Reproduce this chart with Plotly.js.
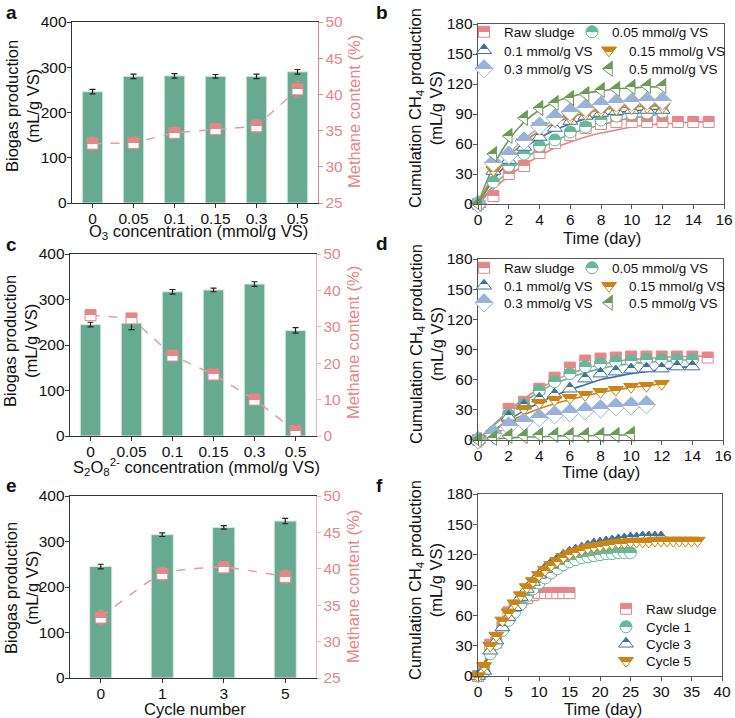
<!DOCTYPE html>
<html>
<head>
<meta charset="utf-8">
<script src="https://cdn.plot.ly/plotly-3.0.1.min.js"></script>
<style>html,body{margin:0;padding:0;background:#fff;}#chart{width:735px;height:718px;}</style>
</head>
<body>
<div id="chart"></div>
<script>
// ---------- Panel a (O3) ----------
const catA = ['0', '0.05', '0.1', '0.15', '0.3', '0.5'];
const biogasA = [246, 280, 281, 280, 280, 290];
const biogasErrA = [5, 5, 5, 4, 5, 5];
const methaneA = [33.2, 33.3, 34.7, 35.2, 35.6, 40.7];
const methaneErrA = [0.9, 0.8, 0.7, 0.6, 0.9, 1.1];

// ---------- Panel c (S2O8) ----------
const catC = ['0', '0.05', '0.1', '0.15', '0.3', '0.5'];
const biogasC = [245, 248, 317, 321, 334, 232];
const biogasErrC = [5, 14, 5, 4, 5, 6];
const methaneC = [33.2, 32.3, 22.1, 16.9, 10.0, 1.4];
const methaneErrC = [0.8, 0.8, 0.7, 0.6, 0.6, 0.5];

// ---------- Panel e (cycles) ----------
const catE = ['0', '1', '3', '5'];
const biogasE = [245, 315, 331, 345];
const biogasErrE = [5, 4, 4, 6];
const methaneE = [33.3, 39.3, 40.2, 38.9];
const methaneErrE = [1.0, 0.9, 0.8, 0.9];

// ---------- Panel b (O3 kinetics) ----------
const t12 = [0, 1, 2, 3, 4, 5, 6, 7, 8, 9, 10, 11, 12];
const t15 = [0, 1, 2, 3, 4, 5, 6, 7, 8, 9, 10, 11, 12, 13, 14, 15];
const rawB = [0, 8, 30, 38, 51, 61, 69, 76, 80, 82, 82, 82, 82, 82, 82, 82];
const b005 = [0, 22, 38, 50, 58, 64, 72, 77, 84, 88, 90, 91, 92];
const b01 = [0, 33, 44, 57, 67, 76, 83, 88, 91, 93, 94, 94, 94];
const b015 = [0, 34, 48, 62, 78, 83, 86, 90, 93, 95, 96, 97, 97];
const b03 = [0, 41, 49, 63, 78, 86, 92, 96, 99, 101, 102, 103, 103];
const b05 = [0, 50, 68, 86, 96, 101, 106, 110, 114, 115, 117, 118, 118];
const fitRawB = [0, 15, 28, 39, 48, 56, 62, 67, 71, 74, 77, 79, 80, 81, 82, 82];
const fit005B = [0, 18, 33, 45, 55, 63, 70, 75, 79, 83, 86, 88, 90];
const fit01B = [0, 24, 42, 56, 66, 74, 80, 85, 88, 91, 93, 94, 95];
const fit015B = [0, 27, 47, 62, 73, 81, 87, 91, 94, 96, 97, 98, 98];
const fit03B = [0, 29, 50, 65, 76, 84, 89, 93, 96, 98, 100, 101, 101];
const fit05B = [0, 38, 64, 82, 94, 102, 107, 111, 113, 115, 116, 117, 117];

// ---------- Panel d (S2O8 kinetics) ----------
const t10 = [0, 1, 2, 3, 4, 5, 6, 7, 8, 9, 10];
const t11 = [0, 1, 2, 3, 4, 5, 6, 7, 8, 9, 10, 11];
const t14 = [0, 1, 2, 3, 4, 5, 6, 7, 8, 9, 10, 11, 12, 13, 14];
const rawD = [0, 5, 31, 38, 51, 62, 72, 79, 81, 82, 83, 83, 83, 83, 83, 82];
const d005 = [0, 8, 25, 35, 49, 58, 66, 73, 76, 78, 79, 80, 80, 80, 80];
const d01 = [0, 8, 23, 34, 41, 45, 51, 61, 66, 68, 70, 71, 71, 73, 73];
const d015 = [0, 6, 16, 31, 37, 40, 42, 45, 48, 50, 53, 54, 56];
const d03 = [0, 6, 14, 18, 22, 25, 27, 29, 31, 33, 34, 35];
const d05 = [0, 2, 4, 4, 5, 5, 5, 5, 5, 5, 6];
const fitRawD = [0, 15, 29, 41, 51, 59, 66, 71, 75, 78, 80, 81, 82, 83, 83, 84];
const fit005D = [0, 14, 27, 38, 48, 56, 62, 67, 71, 74, 76, 77, 78, 79, 80];
const fit01D = [0, 9, 20, 29, 37, 44, 50, 55, 60, 63, 66, 68, 70, 72, 73];
const fit015D = [0, 9, 18, 25, 31, 36, 40, 44, 47, 50, 52, 54, 56];
const fit03D = [0, 6, 12, 17, 21, 24, 26, 28, 30, 31, 32, 33];
const fit05D = [0, 1, 2, 3, 3, 4, 4, 4, 5, 5, 5];

// ---------- Panel f (cycles kinetics) ----------
const t25 = [0,1,2,3,4,5,6,7,8,9,10,11,12,13,14,15,16,17,18,19,20,21,22,23,24,25];
const t30 = [0,1,2,3,4,5,6,7,8,9,10,11,12,13,14,15,16,17,18,19,20,21,22,23,24,25,26,27,28,29,30];
const t36 = [0,1,2,3,4,5,6,7,8,9,10,11,12,13,14,15,16,17,18,19,20,21,22,23,24,25,26,27,28,29,30,31,32,33,34,35,36];
const rawF = [0, 8, 31, 33, 48, 63, 68, 73, 77, 80, 82, 82, 82, 82, 82, 82];
const cyc1F = [0, 4, 22, 32, 45, 55, 63, 71, 79, 86, 92, 97, 102, 106, 110, 113, 115, 117, 118, 119, 120, 121, 121, 122, 122, 122];
const cyc3F = [0, 5, 25, 35, 48, 58, 68, 78, 86, 93, 100, 106, 111, 115, 119, 122, 124, 126, 128, 130, 131, 132, 133, 134, 135, 136, 136, 137, 137, 137, 137];
const cyc5F = [0, 10, 30, 40, 55, 63, 72, 80, 88, 94, 100, 105, 110, 114, 118, 121, 123, 125, 127, 128, 129, 130, 131, 132, 132, 133, 133, 133, 133, 134, 134, 134, 134, 134, 134, 134, 134];
const tFitRawF = [0, 2, 4, 6, 8, 10, 12, 15];
const fitRawF = [0, 25, 46, 61, 71, 77, 80, 82];
const tFitC1 = [0, 2, 4, 6, 8, 10, 12, 15, 18, 21, 25];
const fitC1F = [0, 22, 44, 63, 78, 90, 100, 110, 117, 121, 125];
const tFitC3 = [0, 2, 4, 6, 8, 10, 12, 15, 18, 21, 25, 30];
const fitC3F = [0, 22, 45, 65, 81, 94, 104, 116, 123, 128, 132, 134];
const tFitC5 = [0, 2, 4, 6, 8, 10, 12, 15, 18, 21, 25, 30, 36];
const fitC5F = [0, 25, 48, 68, 84, 97, 107, 118, 125, 129, 132, 134, 135];

// ---------- Text ----------
const yTitleBar = 'Biogas production<br>(mL/g VS)';
const yTitleRight = 'Methane content (%)';
const yTitleCum = 'Cumulation CH<sub>4</sub> production<br>(mL/g VS)';
const xTitleA = 'O<sub>3</sub> concentration (mmol/g VS)';
const xTitleC = 'S<sub>2</sub>O<sub>8</sub><sup>2-</sup> concentration (mmol/g VS)';
const xTitleE = 'Cycle number';
const xTitleTime = 'Time (day)';

// ---------- Styles ----------
const FONT = 'Liberation Sans, Arial, sans-serif';
const TICK = 15.5, TTL = 16.5, LEGF = 13.5;
const BAR = '#68aa91';
const PINK = '#e5868b';
const C_RAW = '#e5868b', C_005 = '#67b898', C_01 = '#41709a', C_015 = '#c98516', C_03 = '#9bb2d8', C_05 = '#6b9a5a';
const AX = '#333';
const W = 735, H = 718;
const px = v => v / W;
const py = v => 1 - v / H;

function halfMarker(color, symbol, size) {
  return {symbol: symbol, size: size, color: color,
          gradient: {type: 'vertical', color: '#ffffff'},
          line: {color: color, width: 1}};
}
function pts(x, y, name, color, symbol, size, xa, ya, legend, lw) {
  const t = {type: 'scatter', mode: 'markers', x: x, y: y, name: name, xaxis: xa, yaxis: ya,
          marker: halfMarker(color, symbol, size), legend: legend, showlegend: true, cliponaxis: false};
  if (lw) t.legendwidth = lw;
  return t;
}
function fit(x, y, color, xa, ya) {
  return {type: 'scatter', mode: 'lines', x: x, y: y, xaxis: xa, yaxis: ya, showlegend: false,
          line: {color: color, width: 1.6, shape: 'spline', smoothing: 1}, hoverinfo: 'skip'};
}
function bars(cat, vals, errs, xa, ya, width) {
  return {type: 'bar', x: cat, y: vals, xaxis: xa, yaxis: ya, width: width, showlegend: false,
          marker: {color: BAR, line: {color: '#d6ece3', width: 1}},
          error_y: {type: 'data', array: errs, visible: true, color: '#222', thickness: 1.2, width: 3}};
}
function methane(cat, vals, errs, xa, ya, shape) {
  return {type: 'scatter', mode: 'lines+markers', x: cat, y: vals, xaxis: xa, yaxis: ya, showlegend: false,
          line: {color: '#ec9a9d', width: 1.5, dash: 'dash', shape: shape, smoothing: 0.6},
          marker: halfMarker(PINK, 'square', 11), cliponaxis: false,
          error_y: {type: 'data', array: errs, visible: true, color: PINK, thickness: 1, width: 3}};
}

const traces = [
  bars(catA, biogasA, biogasErrA, 'x', 'y', 0.5),
  methane(catA, methaneA, methaneErrA, 'x', 'y2', 'linear'),
  bars(catC, biogasC, biogasErrC, 'x3', 'y4', 0.5),
  methane(catC, methaneC, methaneErrC, 'x3', 'y5', 'linear'),
  bars(catE, biogasE, biogasErrE, 'x5', 'y7', 0.36),
  methane(catE, methaneE, methaneErrE, 'x5', 'y8', 'spline'),
  // b fits
  fit(t15, fitRawB, C_RAW, 'x2', 'y3'),
  fit(t12, fit005B, C_005, 'x2', 'y3'),
  fit(t12, fit03B, C_03, 'x2', 'y3'),
  fit(t12, fit01B, C_01, 'x2', 'y3'),
  fit(t12, fit015B, C_015, 'x2', 'y3'),
  fit(t12, fit05B, C_05, 'x2', 'y3'),
  // b points
  pts(t15, rawB, 'Raw sludge', C_RAW, 'square', 11, 'x2', 'y3', 'legend', 63),
  pts(t12, b005, '0.05 mmol/g VS', C_005, 'circle', 12, 'x2', 'y3', 'legend'),
  pts(t12, b01, '0.1 mmol/g VS', C_01, 'triangle-up', 13, 'x2', 'y3', 'legend2', 80),
  pts(t12, b015, '0.15 mmol/g VS', C_015, 'triangle-down', 13, 'x2', 'y3', 'legend2'),
  pts(t12, b03, '0.3 mmol/g VS', C_03, 'diamond', 14, 'x2', 'y3', 'legend3', 80),
  pts(t12, b05, '0.5 mmol/g VS', C_05, 'triangle-left', 13, 'x2', 'y3', 'legend3'),
  // d fits
  fit(t15, fitRawD, C_RAW, 'x4', 'y6'),
  fit(t14, fit005D, C_005, 'x4', 'y6'),
  fit(t14, fit01D, C_01, 'x4', 'y6'),
  fit(t12, fit015D, C_015, 'x4', 'y6'),
  fit(t11, fit03D, C_03, 'x4', 'y6'),
  fit(t10, fit05D, C_05, 'x4', 'y6'),
  // d points
  pts(t15, rawD, 'Raw sludge', C_RAW, 'square', 11, 'x4', 'y6', 'legend4', 63),
  pts(t14, d005, '0.05 mmol/g VS', C_005, 'circle', 12, 'x4', 'y6', 'legend4'),
  pts(t14, d01, '0.1 mmol/g VS', C_01, 'triangle-up', 13, 'x4', 'y6', 'legend5', 80),
  pts(t12, d015, '0.15 mmol/g VS', C_015, 'triangle-down', 13, 'x4', 'y6', 'legend5'),
  pts(t11, d03, '0.3 mmol/g VS', C_03, 'diamond', 14, 'x4', 'y6', 'legend6', 80),
  pts(t10, d05, '0.5 mmol/g VS', C_05, 'triangle-left', 13, 'x4', 'y6', 'legend6'),
  // f fits
  fit(tFitRawF, fitRawF, C_RAW, 'x6', 'y9'),
  fit(tFitC1, fitC1F, C_005, 'x6', 'y9'),
  fit(tFitC3, fitC3F, C_01, 'x6', 'y9'),
  fit(tFitC5, fitC5F, C_015, 'x6', 'y9'),
  // f points
  pts(t15, rawF, 'Raw sludge', C_RAW, 'square', 11, 'x6', 'y9', 'legend7'),
  pts(t25, cyc1F, 'Cycle 1', C_005, 'circle', 12, 'x6', 'y9', 'legend8'),
  pts(t30, cyc3F, 'Cycle 3', C_01, 'triangle-up', 13, 'x6', 'y9', 'legend9'),
  pts(t36, cyc5F, 'Cycle 5', C_015, 'triangle-down', 13, 'x6', 'y9', 'legend10')
];

function catX(dom, anchor) {
  return {domain: dom, anchor: anchor, type: 'category', showline: true, linecolor: AX, linewidth: 1.3,
          mirror: true, ticks: 'outside', ticklen: 4, tickcolor: AX, showgrid: false, zeroline: false,
          tickfont: {size: TICK}, ticklabelstandoff: -3};
}
function leftY(dom, anchor) {
  return {domain: dom, anchor: anchor, range: [0, 400], dtick: 100, showline: true, linecolor: AX, linewidth: 1.3,
          ticks: 'outside', ticklen: 4, tickcolor: AX, showgrid: false, zeroline: false, tickfont: {size: TICK},
          ticklabelstandoff: -3};
}
function rightY(over, anchor, range, dtick, lineCol) {
  return {overlaying: over, anchor: anchor, side: 'right', range: range, dtick: dtick, showline: true,
          linecolor: lineCol, linewidth: 1.3, ticks: 'outside', ticklen: 4, tickcolor: lineCol, showgrid: false,
          zeroline: false, tickfont: {size: TICK, color: PINK}, color: PINK, ticklabelstandoff: -1};
}
function timeX(dom, anchor, range, dtick) {
  return {domain: dom, anchor: anchor, range: range, dtick: dtick, showline: true, linecolor: '#555', linewidth: 1.3,
          mirror: true, ticks: 'outside', ticklen: 4, tickcolor: '#555', showgrid: false, zeroline: false,
          tickfont: {size: TICK}, ticklabelstandoff: -3};
}
function cumY(dom, anchor) {
  return {domain: dom, anchor: anchor, range: [0, 180], dtick: 30, showline: true, linecolor: '#555', linewidth: 1.3,
          mirror: true, ticks: 'outside', ticklen: 4, tickcolor: '#555', showgrid: false, zeroline: false,
          tickfont: {size: TICK}, ticklabelstandoff: -3};
}
function leg(xPx, yPx) {
  return {x: px(xPx), y: py(yPx), xanchor: 'left', yanchor: 'middle', orientation: 'h',
          bgcolor: 'rgba(0,0,0,0)', borderwidth: 0, font: {size: LEGF}};
}
function label(t, xPx, yPx) {
  return {text: '<b>' + t + '</b>', xref: 'paper', yref: 'paper', x: px(xPx), y: py(yPx),
          xanchor: 'left', yanchor: 'middle', showarrow: false, font: {size: 19, color: '#111'}};
}
function title(t, xPx, yPx, angle, color) {
  return {text: t, xref: 'paper', yref: 'paper', x: px(xPx), y: py(yPx), xanchor: 'center', yanchor: 'middle',
          textangle: angle, showarrow: false, font: {size: TTL, color: color || '#111'}};
}

const layout = {
  width: W, height: H, margin: {l: 0, r: 0, t: 0, b: 0},
  paper_bgcolor: '#fff', plot_bgcolor: 'rgba(0,0,0,0)',
  font: {family: FONT, size: 14, color: '#111'},
  xaxis: catX([px(72), px(318)], 'y'),
  yaxis: leftY([py(203), py(22)], 'x'),
  yaxis2: rightY('y', 'x', [25, 50], 5, PINK),
  xaxis2: timeX([px(478), px(724)], 'y3', [0, 16], 2),
  yaxis3: cumY([py(204), py(24)], 'x2'),
  xaxis3: catX([px(70), px(316)], 'y4'),
  yaxis4: leftY([py(436), py(254)], 'x3'),
  yaxis5: rightY('y4', 'x3', [0, 50], 10, '#f0b5b7'),
  xaxis4: timeX([px(478), px(723)], 'y6', [0, 16], 2),
  yaxis6: cumY([py(440), py(259)], 'x4'),
  xaxis5: catX([px(70), px(316)], 'y7'),
  yaxis7: leftY([py(678), py(496)], 'x5'),
  yaxis8: rightY('y7', 'x5', [25, 50], 5, '#f0b5b7'),
  xaxis6: timeX([px(478), px(722)], 'y9', [0, 40], 5),
  yaxis9: cumY([py(676), py(494)], 'x6'),
  legend: leg(464, 32),
  legend2: leg(464, 50.5),
  legend3: leg(464, 69),
  legend4: leg(464, 268),
  legend5: leg(464, 286),
  legend6: leg(464, 303),
  legend7: leg(606, 609),
  legend8: leg(606, 627),
  legend9: leg(606, 644),
  legend10: leg(606, 661),
  annotations: [
    label('a', 4, 13), label('b', 374, 13), label('c', 4, 245), label('d', 374, 243),
    label('e', 4, 485), label('f', 374, 485),
    // panel a
    title(yTitleBar, 22, 106, -90), title(yTitleRight, 354, 112, -90, PINK), title(xTitleA, 198, 232, 0),
    // panel b
    title(yTitleCum, 426, 108, -90), title(xTitleTime, 602, 238, 0),
    // panel c
    title(yTitleBar, 21, 341, -90), title(yTitleRight, 353, 343, -90, PINK), title(xTitleC, 197, 467, 0),
    // panel d
    title(yTitleCum, 426, 344, -90), title(xTitleTime, 601, 472, 0),
    // panel e
    title(yTitleBar, 21, 588, -90), title(yTitleRight, 353, 587, -90, PINK), title(xTitleE, 195, 709, 0),
    // panel f
    title(yTitleCum, 425, 580, -90), title(xTitleTime, 603, 709, 0)
  ],
  showlegend: true
};

// turn the smooth vertical marker gradient into a half-filled (top filled / bottom open) look
function hardenGradients(gd) {
  gd.querySelectorAll('linearGradient').forEach(function (g) {
    const stops = g.querySelectorAll('stop');
    if (stops.length < 2) return;
    const cols = Array.from(stops).map(s => (s.getAttribute('stop-color') || s.style.stopColor || '').replace(/\s/g, '').toLowerCase());
    const isWhite = c => c === '#ffffff' || c === '#fff' || c === 'rgb(255,255,255)' || c === 'white';
    let colored = cols.find(c => !isWhite(c));
    if (!colored) return;
    const y1 = parseFloat(g.getAttribute('y1') || '0');
    const y2 = parseFloat(g.getAttribute('y2') || '0');
    const topFirst = y1 < y2;
    const a = topFirst ? colored : '#ffffff';
    const b = topFirst ? '#ffffff' : colored;
    stops.forEach(s => s.remove());
    [[0, a], [0.5, a], [0.5, b], [1, b]].forEach(function (st) {
      const s = document.createElementNS('http://www.w3.org/2000/svg', 'stop');
      s.setAttribute('offset', st[0]);
      s.setAttribute('stop-color', st[1]);
      s.setAttribute('stop-opacity', 1);
      g.appendChild(s);
    });
  });
}

Plotly.newPlot('chart', traces, layout, {displayModeBar: false, staticPlot: true}).then(function (gd) {
  hardenGradients(gd);
});
</script>
</body>
</html>
